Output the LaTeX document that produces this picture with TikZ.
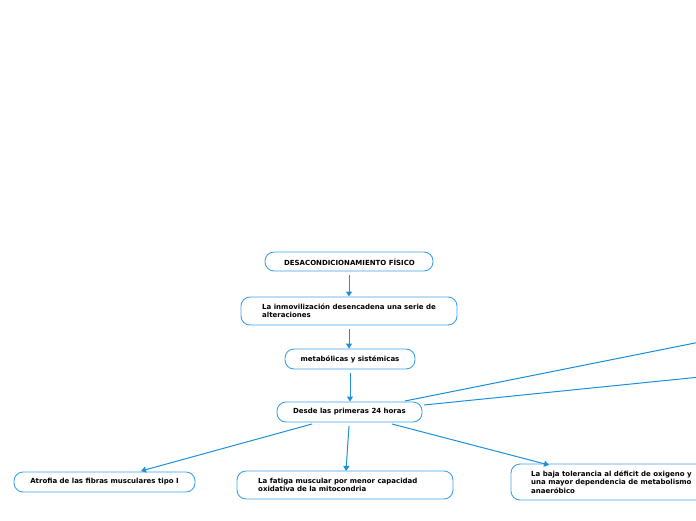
\documentclass[tikz,border=0pt]{standalone}
\usepackage{fontspec}
\setmainfont{DejaVu Sans}
\usetikzlibrary{arrows.meta}
\definecolor{lineblue}{HTML}{1E8FDB}
\definecolor{boxblue}{HTML}{3EA3EA}
\tikzset{
  box/.style={draw=boxblue, line width=0.9pt, rounded corners=9pt, fill=white},
  conn/.style={draw=lineblue, line width=1pt},
  arr/.style={conn, -{Triangle[width=6pt,length=5pt]}},
  txt/.style={font=\fontsize{7}{8.4}\selectfont\bfseries, align=left, inner sep=0pt}
}
\begin{document}
\begin{tikzpicture}[x=1pt,y=-1pt]
\useasboundingbox (0,0) rectangle (696,520);
\clip (0,0) rectangle (696,520);
% boxes
\draw[box] (265,252) rectangle (433,271);
\node[txt] (n1) at (349.5,262) {DESACONDICIONAMIENTO FÍSICO};
\draw[box] (241,297) rectangle (457,325);
\node[txt, anchor=west] (n2) at (262,311) {La inmovilización desencadena una serie de\\alteraciones};
\draw[box] (285,349) rectangle (415,369);
\node[txt] (n3) at (350,359) {metabólicas y sistémicas};
\draw[box] (277,402) rectangle (422,422);
\node[txt] (n4) at (349.5,412) {Desde las primeras 24 horas};
\draw[box] (14,472) rectangle (195,492);
\node[txt] (n5) at (104.5,482) {Atrofia de las fibras musculares tipo I};
\draw[box] (237,471) rectangle (453,499);
\node[txt, anchor=west] (n6) at (258,485) {La fatiga muscular por menor capacidad\\oxidativa de la mitocondria};
\draw[box] (511,464) rectangle (712,500);
\node[txt, anchor=west] (n7) at (531,482) {La baja tolerancia al déficit de oxigeno y\\una mayor dependencia de metabolismo\\anaeróbico};
% connection points
\coordinate (a1) at (349,275); \coordinate (b1) at (349,296.5);
\coordinate (a2) at (349,329); \coordinate (b2) at (349,348.5);
\coordinate (a3) at (350,373); \coordinate (b3) at (350,401.5);
\coordinate (a4) at (312,424); \coordinate (b4) at (141,471);
\coordinate (a5) at (349,426); \coordinate (b5) at (346,471);
\coordinate (a6) at (392,424); \coordinate (b6) at (549,465);
\coordinate (a7) at (405,401); \coordinate (b7) at (700,342);
\coordinate (a8) at (424,405); \coordinate (b8) at (700,377);
\draw[arr] (a1) -- (b1);
\draw[arr] (a2) -- (b2);
\draw[arr] (a3) -- (b3);
\draw[arr] (a4) -- (b4);
\draw[arr] (a5) -- (b5);
\draw[arr] (a6) -- (b6);
\draw[conn] (a7) -- (b7);
\draw[conn] (a8) -- (b8);
\end{tikzpicture}
\end{document}
